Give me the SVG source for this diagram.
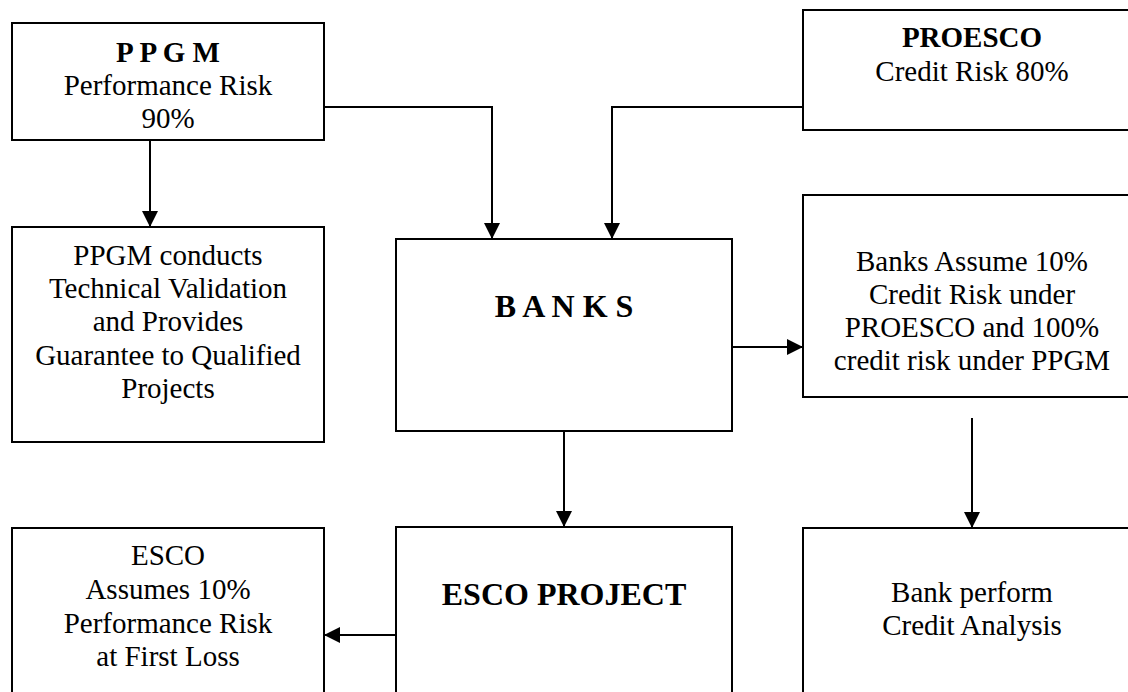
<svg xmlns="http://www.w3.org/2000/svg" width="1128" height="692" viewBox="0 0 1128 692">
<style>
.box{fill:#fff;stroke:#000;stroke-width:2}
.t{font-family:"Liberation Serif","Times New Roman",serif;font-size:29px;fill:#000;text-anchor:middle}
.b{font-weight:bold}
.big{font-size:32px}
.c{fill:none;stroke:#000;stroke-width:2}
</style>
<defs>
<marker id="ah" viewBox="0 0 16 16" refX="16" refY="8" markerWidth="16" markerHeight="16" markerUnits="userSpaceOnUse" orient="auto">
<path d="M0,0 L16,8 L0,16 z" fill="#000"/>
</marker>
</defs>
<rect width="1128" height="692" fill="#fff"/>
<g id="ppgm">
<rect class="box" x="12" y="23" width="312" height="117"/>
<text class="t b" x="168" y="62">P P G M</text>
<text class="t" x="168" y="95">Performance Risk</text>
<text class="t" x="168" y="128">90%</text>
</g>
<g id="proesco">
<rect class="box" x="803" y="10" width="338" height="120"/>
<text class="t b" x="972" y="47">PROESCO</text>
<text class="t" x="972" y="81">Credit Risk 80%</text>
</g>
<g id="ppgm-conducts">
<rect class="box" x="12" y="227" width="312" height="215"/>
<text class="t" x="168" y="265">PPGM conducts</text>
<text class="t" x="168" y="298">Technical Validation</text>
<text class="t" x="168" y="331">and Provides</text>
<text class="t" x="168" y="365">Guarantee to Qualified</text>
<text class="t" x="168" y="398">Projects</text>
</g>
<g id="banks">
<rect class="box" x="396" y="239" width="336" height="192"/>
<text class="t b big" x="564" y="317">B A N K S</text>
</g>
<g id="banks-assume">
<rect class="box" x="803" y="195" width="338" height="202"/>
<text class="t" x="972" y="271">Banks Assume 10%</text>
<text class="t" x="972" y="304">Credit Risk under</text>
<text class="t" x="972" y="337">PROESCO and 100%</text>
<text class="t" x="972" y="370">credit risk under PPGM</text>
</g>
<g id="esco">
<rect class="box" x="12" y="528" width="312" height="180"/>
<text class="t" x="168" y="565">ESCO</text>
<text class="t" x="168" y="599">Assumes 10%</text>
<text class="t" x="168" y="633">Performance Risk</text>
<text class="t" x="168" y="666">at First Loss</text>
</g>
<g id="esco-project">
<rect class="box" x="396" y="527" width="336" height="180"/>
<text class="t b big" x="564" y="605">ESCO PROJECT</text>
</g>
<g id="bank-perform">
<rect class="box" x="803" y="528" width="338" height="180"/>
<text class="t" x="972" y="602">Bank perform</text>
<text class="t" x="972" y="635">Credit Analysis</text>
</g>
<g id="connectors">
<path class="c" d="M150,140 V227" marker-end="url(#ah)"/>
<path class="c" d="M324,107 H492 V239" marker-end="url(#ah)"/>
<path class="c" d="M803,107 H612 V239" marker-end="url(#ah)"/>
<path class="c" d="M732,347 H803" marker-end="url(#ah)"/>
<path class="c" d="M564,431 V527" marker-end="url(#ah)"/>
<path class="c" d="M972,418 V528" marker-end="url(#ah)"/>
<path class="c" d="M396,635 H324" marker-end="url(#ah)"/>
</g>
</svg>
